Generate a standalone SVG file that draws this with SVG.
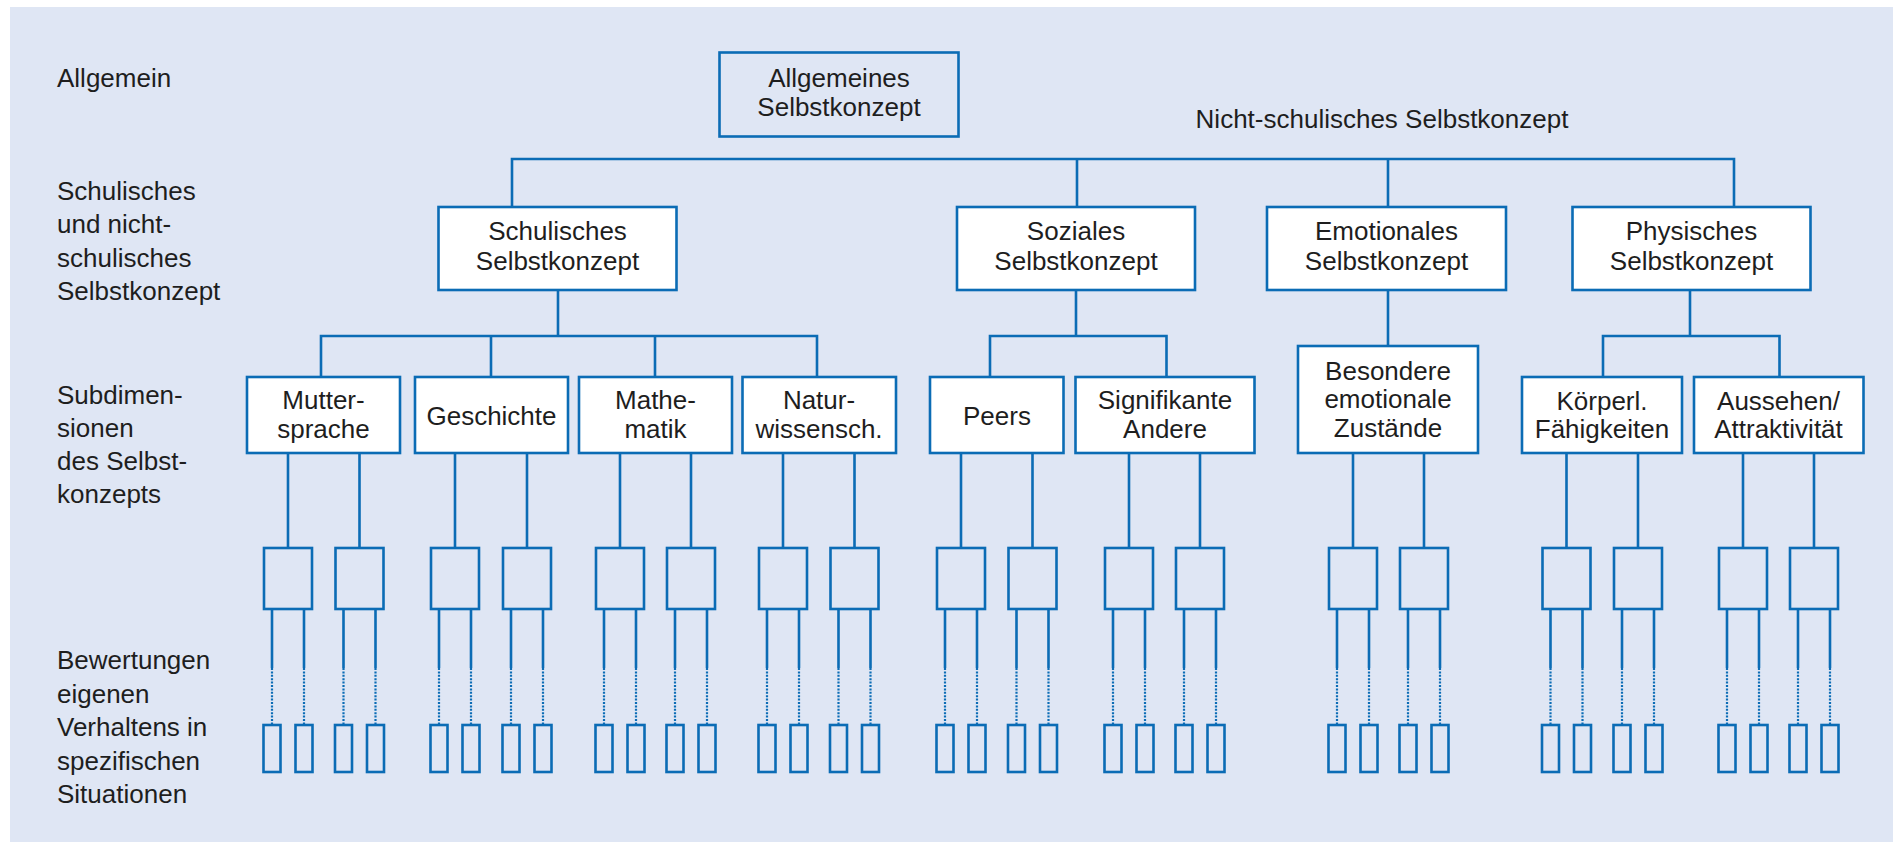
<svg xmlns="http://www.w3.org/2000/svg" width="1893" height="842" viewBox="0 0 1893 842">
<style>
.bg{fill:#dfe6f4}
.box{fill:#ffffff;stroke:#0b6cb5;stroke-width:2.6}
.box0{fill:#dfe6f4;stroke:#0b6cb5;stroke-width:2.6}
.sb{fill:none;stroke:#0b6cb5;stroke-width:2.6}
.ln{fill:none;stroke:#0b6cb5;stroke-width:2.6}
.dot{fill:none;stroke:#0b6cb5;stroke-width:2.2;stroke-dasharray:2 1.4}
text{font-family:"Liberation Sans",Arial,sans-serif;font-size:26px;fill:#1e1e1e}
.c{text-anchor:middle}
</style>
<rect x="0" y="0" width="1893" height="842" fill="#ffffff"/>
<rect class="bg" x="10" y="7" width="1883" height="835"/>

<g id="labels">
<text x="57" y="87">Allgemein</text>
<text x="57" y="199.5">Schulisches</text>
<text x="57" y="233">und nicht-</text>
<text x="57" y="266.5">schulisches</text>
<text x="57" y="300">Selbstkonzept</text>
<text x="57" y="404">Subdimen-</text>
<text x="57" y="437">sionen</text>
<text x="57" y="470">des Selbst-</text>
<text x="57" y="503">konzepts</text>
<text x="57" y="669">Bewertungen</text>
<text x="57" y="702.5">eigenen</text>
<text x="57" y="736">Verhaltens in</text>
<text x="57" y="769.5">spezifischen</text>
<text x="57" y="803">Situationen</text>
<text class="c" x="1382" y="128">Nicht-schulisches Selbstkonzept</text>
</g>

<g id="connectors">
<path class="ln" d="M512 207V159H1734V207M1077 159V207M1388 159V207"/>
<path class="ln" d="M558 290V336M321 377V336H817V377M491 336V377M655 336V377"/>
<path class="ln" d="M1076 290V336M990 377V336H1166.5V377"/>
<path class="ln" d="M1388 290V346"/>
<path class="ln" d="M1690 290V336M1603 377V336H1779.5V377"/>
<path class="ln" d="M288 453V548M359.5 453V548M455 453V548M527 453V548M620 453V548M691 453V548M783 453V548M854.5 453V548M961 453V548M1032.5 453V548M1129 453V548M1200 453V548M1353 453V548M1424 453V548M1566.5 453V548M1638 453V548M1743 453V548M1814 453V548"/>
<path class="ln" d="M272 609V668M304 609V668M343.5 609V668M375.5 609V668M439 609V668M471 609V668M511 609V668M543 609V668M604 609V668M636 609V668M675 609V668M707 609V668M767 609V668M799 609V668M838.5 609V668M870.5 609V668M945 609V668M977 609V668M1016.5 609V668M1048.5 609V668M1113 609V668M1145 609V668M1184 609V668M1216 609V668M1337 609V668M1369 609V668M1408 609V668M1440 609V668M1550.5 609V668M1582.5 609V668M1622 609V668M1654 609V668M1727 609V668M1759 609V668M1798 609V668M1830 609V668"/>
<path class="dot" d="M272 668V725M304 668V725M343.5 668V725M375.5 668V725M439 668V725M471 668V725M511 668V725M543 668V725M604 668V725M636 668V725M675 668V725M707 668V725M767 668V725M799 668V725M838.5 668V725M870.5 668V725M945 668V725M977 668V725M1016.5 668V725M1048.5 668V725M1113 668V725M1145 668V725M1184 668V725M1216 668V725M1337 668V725M1369 668V725M1408 668V725M1440 668V725M1550.5 668V725M1582.5 668V725M1622 668V725M1654 668V725M1727 668V725M1759 668V725M1798 668V725M1830 668V725"/>
</g>

<g id="allgemeines">
<rect class="box0" x="719.5" y="52.5" width="239" height="84"/>
<text class="c" x="839" y="86.5">Allgemeines</text>
<text class="c" x="839" y="116">Selbstkonzept</text>
</g>

<g id="schulisch">
<rect class="box" x="438.5" y="207" width="238" height="83"/>
<text class="c" x="557.5" y="240">Schulisches</text>
<text class="c" x="557.5" y="269.5">Selbstkonzept</text>
</g>
<g id="sozial">
<rect class="box" x="957" y="207" width="238" height="83"/>
<text class="c" x="1076" y="240">Soziales</text>
<text class="c" x="1076" y="269.5">Selbstkonzept</text>
</g>
<g id="emotional">
<rect class="box" x="1267" y="207" width="239" height="83"/>
<text class="c" x="1386.5" y="240">Emotionales</text>
<text class="c" x="1386.5" y="269.5">Selbstkonzept</text>
</g>
<g id="physisch">
<rect class="box" x="1572.5" y="207" width="238" height="83"/>
<text class="c" x="1691.5" y="240">Physisches</text>
<text class="c" x="1691.5" y="269.5">Selbstkonzept</text>
</g>

<g id="muttersprache">
<rect class="box" x="247" y="377" width="153" height="76"/>
<text class="c" x="323.5" y="409">Mutter-</text>
<text class="c" x="323.5" y="437.5">sprache</text>
</g>
<g id="geschichte">
<rect class="box" x="415" y="377" width="153" height="76"/>
<text class="c" x="491.5" y="425">Geschichte</text>
</g>
<g id="mathematik">
<rect class="box" x="579" y="377" width="153" height="76"/>
<text class="c" x="655.5" y="409">Mathe-</text>
<text class="c" x="655.5" y="437.5">matik</text>
</g>
<g id="naturwissenschaften">
<rect class="box" x="742.5" y="377" width="153.5" height="76"/>
<text class="c" x="819" y="409">Natur-</text>
<text class="c" x="819" y="437.5">wissensch.</text>
</g>
<g id="peers">
<rect class="box" x="930" y="377" width="133.5" height="76"/>
<text class="c" x="997" y="425">Peers</text>
</g>
<g id="signifikante">
<rect class="box" x="1075.5" y="377" width="179" height="76"/>
<text class="c" x="1165" y="409">Signifikante</text>
<text class="c" x="1165" y="437.5">Andere</text>
</g>
<g id="besondere">
<rect class="box" x="1298" y="346" width="180" height="107"/>
<text class="c" x="1388" y="379.5">Besondere</text>
<text class="c" x="1388" y="408">emotionale</text>
<text class="c" x="1388" y="436.5">Zustände</text>
</g>
<g id="koerperl">
<rect class="box" x="1522" y="377" width="160" height="76"/>
<text class="c" x="1602" y="410">Körperl.</text>
<text class="c" x="1602" y="438">Fähigkeiten</text>
</g>
<g id="aussehen">
<rect class="box" x="1694" y="377" width="169.5" height="76"/>
<text class="c" x="1778.5" y="410">Aussehen/</text>
<text class="c" x="1778.5" y="438">Attraktivität</text>
</g>

<g id="aspekte">
<rect class="sb" x="264" y="548" width="48" height="61"/>
<rect class="sb" x="335.5" y="548" width="48" height="61"/>
<rect class="sb" x="431" y="548" width="48" height="61"/>
<rect class="sb" x="503" y="548" width="48" height="61"/>
<rect class="sb" x="596" y="548" width="48" height="61"/>
<rect class="sb" x="667" y="548" width="48" height="61"/>
<rect class="sb" x="759" y="548" width="48" height="61"/>
<rect class="sb" x="830.5" y="548" width="48" height="61"/>
<rect class="sb" x="937" y="548" width="48" height="61"/>
<rect class="sb" x="1008.5" y="548" width="48" height="61"/>
<rect class="sb" x="1105" y="548" width="48" height="61"/>
<rect class="sb" x="1176" y="548" width="48" height="61"/>
<rect class="sb" x="1329" y="548" width="48" height="61"/>
<rect class="sb" x="1400" y="548" width="48" height="61"/>
<rect class="sb" x="1542.5" y="548" width="48" height="61"/>
<rect class="sb" x="1614" y="548" width="48" height="61"/>
<rect class="sb" x="1719" y="548" width="48" height="61"/>
<rect class="sb" x="1790" y="548" width="48" height="61"/>
</g>

<g id="situationen">
<rect class="sb" x="263.5" y="725" width="17" height="47"/><rect class="sb" x="295.5" y="725" width="17" height="47"/>
<rect class="sb" x="335" y="725" width="17" height="47"/><rect class="sb" x="367" y="725" width="17" height="47"/>
<rect class="sb" x="430.5" y="725" width="17" height="47"/><rect class="sb" x="462.5" y="725" width="17" height="47"/>
<rect class="sb" x="502.5" y="725" width="17" height="47"/><rect class="sb" x="534.5" y="725" width="17" height="47"/>
<rect class="sb" x="595.5" y="725" width="17" height="47"/><rect class="sb" x="627.5" y="725" width="17" height="47"/>
<rect class="sb" x="666.5" y="725" width="17" height="47"/><rect class="sb" x="698.5" y="725" width="17" height="47"/>
<rect class="sb" x="758.5" y="725" width="17" height="47"/><rect class="sb" x="790.5" y="725" width="17" height="47"/>
<rect class="sb" x="830" y="725" width="17" height="47"/><rect class="sb" x="862" y="725" width="17" height="47"/>
<rect class="sb" x="936.5" y="725" width="17" height="47"/><rect class="sb" x="968.5" y="725" width="17" height="47"/>
<rect class="sb" x="1008" y="725" width="17" height="47"/><rect class="sb" x="1040" y="725" width="17" height="47"/>
<rect class="sb" x="1104.5" y="725" width="17" height="47"/><rect class="sb" x="1136.5" y="725" width="17" height="47"/>
<rect class="sb" x="1175.5" y="725" width="17" height="47"/><rect class="sb" x="1207.5" y="725" width="17" height="47"/>
<rect class="sb" x="1328.5" y="725" width="17" height="47"/><rect class="sb" x="1360.5" y="725" width="17" height="47"/>
<rect class="sb" x="1399.5" y="725" width="17" height="47"/><rect class="sb" x="1431.5" y="725" width="17" height="47"/>
<rect class="sb" x="1542" y="725" width="17" height="47"/><rect class="sb" x="1574" y="725" width="17" height="47"/>
<rect class="sb" x="1613.5" y="725" width="17" height="47"/><rect class="sb" x="1645.5" y="725" width="17" height="47"/>
<rect class="sb" x="1718.5" y="725" width="17" height="47"/><rect class="sb" x="1750.5" y="725" width="17" height="47"/>
<rect class="sb" x="1789.5" y="725" width="17" height="47"/><rect class="sb" x="1821.5" y="725" width="17" height="47"/>
</g>
</svg>
